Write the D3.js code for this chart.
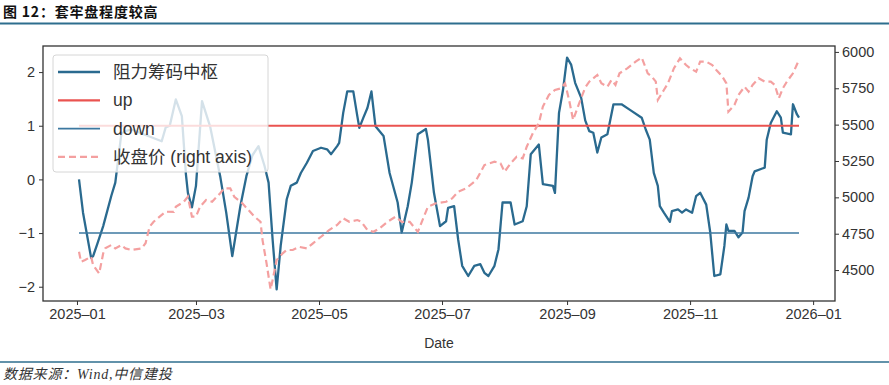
<!DOCTYPE html>
<html>
<head>
<meta charset="utf-8">
<style>
body { margin: 0; background: #fff; }
svg { display: block; }
.tick text { font-family: "Liberation Sans", Arial, sans-serif; font-size: 14.5px; fill: #333; }
.tick line { stroke: #333; }
</style>
</head>
<body>
<svg id="chart" width="889" height="385"></svg>
<script src="https://cdn.jsdelivr.net/npm/d3@7"></script>
<script>
// 阻力筹码中枢 (left axis)
const pivotDates = ["2025-01-02","2025-01-04","2025-01-08","2025-01-09","2025-01-11","2025-01-14","2025-01-18","2025-01-20",
  "2025-01-23","2025-01-25","2025-01-28","2025-02-12","2025-02-14","2025-02-16","2025-02-19","2025-02-22","2025-02-24",
  "2025-02-25","2025-02-27","2025-03-01","2025-03-04","2025-03-08","2025-03-13","2025-03-16","2025-03-19","2025-03-23",
  "2025-03-26","2025-03-29","2025-04-01","2025-04-04","2025-04-06","2025-04-08","2025-04-10","2025-04-12",
  "2025-04-15","2025-04-17","2025-04-20","2025-04-22","2025-04-25","2025-04-28","2025-05-02","2025-05-05","2025-05-07",
  "2025-05-10","2025-05-11","2025-05-13","2025-05-15","2025-05-18","2025-05-20","2025-05-21","2025-05-23","2025-05-25",
  "2025-05-27","2025-05-29","2025-06-02","2025-06-05","2025-06-09","2025-06-11","2025-06-14","2025-06-16","2025-06-19",
  "2025-06-23","2025-06-24","2025-06-27","2025-06-30","2025-07-03","2025-07-04","2025-07-07","2025-07-09","2025-07-11",
  "2025-07-14","2025-07-17","2025-07-20","2025-07-22","2025-07-24","2025-07-27","2025-07-29","2025-07-31","2025-08-04",
  "2025-08-06","2025-08-10","2025-08-12","2025-08-14","2025-08-18","2025-08-20","2025-08-25","2025-08-26","2025-08-28",
  "2025-08-30","2025-09-01","2025-09-03","2025-09-05","2025-09-08","2025-09-10","2025-09-12","2025-09-14","2025-09-16",
  "2025-09-18","2025-09-21","2025-09-24","2025-09-28","2025-10-02","2025-10-08","2025-10-10","2025-10-12","2025-10-14",
  "2025-10-16","2025-10-17","2025-10-19","2025-10-22","2025-10-23","2025-10-26","2025-10-28","2025-10-30","2025-11-02",
  "2025-11-04","2025-11-06","2025-11-09","2025-11-11","2025-11-13","2025-11-16","2025-11-18","2025-11-19","2025-11-20",
  "2025-11-23","2025-11-25","2025-11-27","2025-11-28","2025-11-30","2025-12-02","2025-12-03","2025-12-08","2025-12-09",
  "2025-12-11","2025-12-14","2025-12-16","2025-12-17","2025-12-21","2025-12-22","2025-12-24","2025-12-25"];
const pivotValues = [0.0,-0.62,-1.46,-1.43,-1.21,-0.87,-0.31,-0.06,
  0.85,0.9,0.93,0.71,0.97,1.0,1.49,1.18,0.1,
  -0.25,-0.52,-0.12,1.46,0.99,0.06,-0.62,-1.43,-0.5,
  0.06,0.45,0.62,0.25,-0.06,-1.12,-2.05,-1.24,
  -0.37,-0.12,-0.06,0.12,0.31,0.53,0.59,0.56,0.47,
  0.62,0.68,1.24,1.64,1.64,1.18,0.96,1.15,1.33,
  1.64,0.99,0.81,0.12,-0.43,-0.99,-0.5,-0.06,0.84,
  0.94,0.74,-0.25,-0.87,-0.78,-0.53,-0.5,-1.12,-1.61,
  -1.8,-1.61,-1.58,-1.74,-1.8,-1.61,-1.3,-0.43,-0.43,
  -0.84,-0.78,-0.5,0.47,0.65,-0.09,-0.12,-0.25,1.24,
  1.67,2.27,2.14,1.8,1.52,1.1,0.9,0.87,0.5,
  0.78,0.84,1.4,1.4,1.3,1.15,0.93,0.74,0.12,
  -0.12,-0.5,-0.62,-0.79,-0.59,-0.56,-0.62,-0.56,-0.62,
  -0.31,-0.25,-0.47,-0.99,-1.8,-1.77,-1.24,-0.84,-0.96,
  -0.96,-1.08,-0.99,-0.59,-0.34,0.06,0.15,0.22,0.74,
  1.05,1.27,1.15,0.87,0.84,1.4,1.21,1.15];

// 收盘价 (right axis)
const closeDates = ["2025-01-02","2025-01-03","2025-01-05","2025-01-08","2025-01-09","2025-01-12","2025-01-14","2025-01-15",
  "2025-01-18","2025-01-20","2025-01-23","2025-01-25","2025-01-28","2025-02-02","2025-02-04","2025-02-06","2025-02-08",
  "2025-02-11","2025-02-14","2025-02-18","2025-02-19","2025-02-23","2025-02-25","2025-02-27","2025-03-01","2025-03-03",
  "2025-03-06","2025-03-09","2025-03-13","2025-03-15","2025-03-18","2025-03-20","2025-03-24","2025-03-27","2025-03-30",
  "2025-04-02","2025-04-03","2025-04-05","2025-04-07","2025-04-08","2025-04-10","2025-04-13","2025-04-15","2025-04-18",
  "2025-04-21","2025-04-25","2025-04-28","2025-05-02","2025-05-06","2025-05-10","2025-05-13","2025-05-16","2025-05-20",
  "2025-05-22","2025-05-25","2025-05-28","2025-05-31","2025-06-04","2025-06-08","2025-06-11","2025-06-15","2025-06-19",
  "2025-06-22","2025-06-24","2025-06-28","2025-07-03","2025-07-06","2025-07-09","2025-07-13","2025-07-18","2025-07-22",
  "2025-07-27","2025-07-30","2025-08-01","2025-08-04","2025-08-07","2025-08-10","2025-08-12","2025-08-15","2025-08-18",
  "2025-08-20","2025-08-23","2025-08-26","2025-08-29","2025-08-31","2025-09-02","2025-09-04","2025-09-07","2025-09-10",
  "2025-09-12","2025-09-16","2025-09-18","2025-09-21","2025-09-23","2025-09-25","2025-09-27","2025-10-01","2025-10-05",
  "2025-10-08","2025-10-11","2025-10-13","2025-10-15","2025-10-16","2025-10-19","2025-10-21","2025-10-24","2025-10-27",
  "2025-10-30","2025-11-01","2025-11-04","2025-11-06","2025-11-09","2025-11-12","2025-11-14","2025-11-17","2025-11-19",
  "2025-11-20","2025-11-23","2025-11-25","2025-11-28","2025-11-30","2025-12-02","2025-12-05","2025-12-08","2025-12-11",
  "2025-12-13","2025-12-15","2025-12-17","2025-12-19","2025-12-22","2025-12-25"];
const closeValues = [4626,4557,4569,4592,4534,4477,4615,4649,
  4672,4649,4672,4649,4638,4649,4684,4798,4832,
  4867,4901,4900,4935,4970,5004,4867,4867,4935,
  4982,4970,5028,5062,5062,5004,4959,4913,4867,
  4832,4706,4546,4367,4431,4569,4615,4638,4638,
  4660,4649,4684,4729,4775,4810,4856,4832,4844,
  4832,4775,4763,4787,4832,4867,4832,4832,4763,
  4867,4935,4959,4970,4993,5039,5062,5119,5222,
  5245,5234,5176,5234,5279,5268,5348,5440,5509,
  5624,5704,5738,5750,5784,5670,5532,5647,5755,
  5795,5842,5784,5761,5807,5773,5853,5888,5933,
  5961,5853,5830,5796,5670,5738,5784,5888,5956,
  5910,5888,5864,5933,5933,5910,5876,5830,5784,
  5589,5635,5704,5761,5727,5773,5819,5796,5796,
  5773,5681,5750,5796,5853,5945];

const upLevel = 1;
const downLevel = -1;
const leftTicks = [-2, -1, 0, 1, 2];
const rightTicks = [4500, 4750, 5000, 5250, 5500, 5750, 6000];
const monthTicks = ["2025-01-01","2025-03-01","2025-05-01","2025-07-01","2025-09-01","2025-11-01","2026-01-01"];
const legendLabels = ["阻力筹码中枢", "up", "down", "收盘价 (right axis)"];
const titleText = "图 12：套牢盘程度较高";
const sourceText = "数据来源：Wind,中信建投";

const parse = d3.timeParse("%Y-%m-%d");
const pivotData = pivotDates.map((d, i) => ({date: parse(d), v: pivotValues[i]}));
const closeData = closeDates.map((d, i) => ({date: parse(d), v: closeValues[i]}));

const svg = d3.select("#chart");
const mLeft = 43, mRight = 835, mTop = 46, mBottom = 301;

// matplotlib style 5% margins
function padded(ext) {
    const s = ext[1] - ext[0];
    return [ext[0] - s * 0.05, ext[1] + s * 0.05];
}
const dateExt = d3.extent(pivotData, d => d.date);
const dspan = dateExt[1] - dateExt[0];
const x = d3.scaleTime()
    .domain([new Date(+dateExt[0] - dspan * 0.05), new Date(+dateExt[1] + dspan * 0.05)])
    .range([mLeft, mRight]);
const yL = d3.scaleLinear().domain(padded(d3.extent(pivotValues))).range([mBottom, mTop]);
const yR = d3.scaleLinear().domain(padded(d3.extent(closeValues))).range([mBottom, mTop]);

svg.append("rect").attr("width", 889).attr("height", 385).attr("fill", "#fff");

// title + rule
svg.append("text").attr("x", 3).attr("y", 17)
    .attr("font-family", "'Noto Sans CJK SC', sans-serif").attr("font-weight", "bold")
    .attr("font-size", "14px").attr("letter-spacing", "0.8px").attr("fill", "#111").text(titleText);
svg.append("line").attr("x1", 0).attr("x2", 889).attr("y1", 23.5).attr("y2", 23.5)
    .attr("stroke", "#2e6e8e").attr("stroke-width", 2);

// axes
const fmtMinus = d => d < 0 ? "\u2212" + Math.abs(d) : String(d);
svg.append("g").attr("transform", `translate(${mLeft},0)`)
    .call(d3.axisLeft(yL).tickValues(leftTicks).tickSize(4).tickPadding(4).tickFormat(fmtMinus))
    .call(g => g.select(".domain").remove());
svg.append("g").attr("transform", `translate(${mRight},0)`)
    .call(d3.axisRight(yR).tickValues(rightTicks).tickSize(4).tickPadding(3).tickFormat(d3.format("d")))
    .call(g => g.select(".domain").remove());
svg.append("g").attr("transform", `translate(0,${mBottom})`)
    .call(d3.axisBottom(x).tickValues(monthTicks.map(parse)).tickSize(4).tickPadding(4)
        .tickFormat(d3.timeFormat("%Y\u2013%m")))
    .call(g => g.select(".domain").remove());

svg.append("text").attr("x", (mLeft + mRight) / 2).attr("y", 348).attr("text-anchor", "middle")
    .attr("font-family", "'Liberation Sans', Arial, sans-serif").attr("font-size", "14px")
    .attr("fill", "#333").text("Date");

// series
const lineL = d3.line().x(d => x(d.date)).y(d => yL(d.v));
const lineR = d3.line().x(d => x(d.date)).y(d => yR(d.v));

svg.append("path").datum(pivotData).attr("d", lineL)
    .attr("fill", "none").attr("stroke", "#2a6a8f").attr("stroke-width", 2.3).attr("stroke-linejoin", "round");

const x0 = x(dateExt[0]), x1 = x(dateExt[1]);
svg.append("line").attr("x1", x0).attr("x2", x1).attr("y1", yL(upLevel)).attr("y2", yL(upLevel))
    .attr("stroke", "#ea5350").attr("stroke-width", 2);
svg.append("line").attr("x1", x0).attr("x2", x1).attr("y1", yL(downLevel)).attr("y2", yL(downLevel))
    .attr("stroke", "#3c78a0").attr("stroke-width", 1.6);

// legend
const legendColors = ["#2a6a8f", "#ea5350", "#3c78a0", "#f4a0a0"];
const lg = svg.append("g");
lg.append("rect").attr("x", 53).attr("y", 55).attr("width", 215).attr("height", 117).attr("rx", 3)
    .attr("fill", "#fff").attr("fill-opacity", 0.8).attr("stroke", "#d6d6d6");
legendLabels.forEach((lab, i) => {
    const cy = 72 + i * 28.3;
    lg.append("line").attr("x1", 58).attr("x2", 100).attr("y1", cy).attr("y2", cy)
        .attr("stroke", legendColors[i]).attr("stroke-width", i == 2 ? 1.8 : 2.3)
        .attr("stroke-dasharray", i == 3 ? "7,4" : null);
    lg.append("text").attr("x", 113).attr("y", cy + 6)
        .attr("font-family", "'Liberation Sans', 'Noto Sans CJK SC', sans-serif").attr("font-size", "17.5px")
        .attr("fill", "#333").text(lab);
});

svg.append("path").datum(closeData).attr("d", lineR)
    .attr("fill", "none").attr("stroke", "#f4a0a0").attr("stroke-width", 2.2)
    .attr("stroke-dasharray", "7,4");

// frame
svg.append("rect").attr("x", mLeft).attr("y", mTop).attr("width", mRight - mLeft).attr("height", mBottom - mTop)
    .attr("fill", "none").attr("stroke", "#333").attr("stroke-width", 1.3);

// footer
svg.append("line").attr("x1", 0).attr("x2", 889).attr("y1", 362).attr("y2", 362)
    .attr("stroke", "#2e6e8e").attr("stroke-width", 1.5);
svg.append("text").attr("x", 3).attr("y", 379)
    .attr("font-family", "'Liberation Serif', 'Noto Sans CJK SC', serif").attr("font-style", "italic")
    .attr("font-size", "14px").attr("letter-spacing", "0.8px").attr("fill", "#333").text(sourceText);
</script>
</body>
</html>
